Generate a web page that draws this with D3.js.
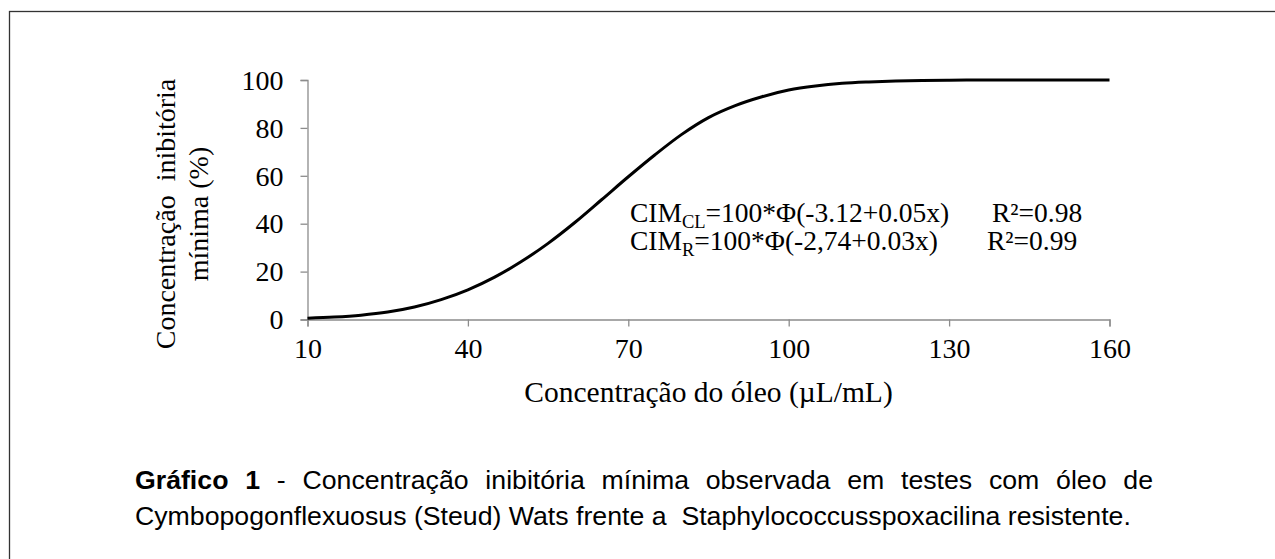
<!DOCTYPE html>
<html>
<head>
<meta charset="utf-8">
<script src="https://cdn.jsdelivr.net/npm/d3@7"></script>
<style>
  html, body { margin: 0; padding: 0; background: #fff; }
  svg { display: block; }
</style>
</head>
<body>
<svg id="chart" width="1275" height="559"></svg>
<script>
// ---- data ----
const concentrations = [10, 15, 20, 25, 30, 35, 40, 45, 50, 55, 60, 65, 70, 75, 80, 85, 90, 95, 100, 105, 110, 115, 120, 125, 130, 140, 150, 160];
const inhibition     = [0.5, 1.0, 1.8, 3.1, 5.2, 8.3, 12.4, 17.7, 24.2, 31.8, 40.5, 50.0, 59.6, 68.8, 77.3, 84.3, 89.3, 93.0, 95.8, 97.5, 98.6, 99.2, 99.6, 99.8, 99.9, 100, 100, 100];
const xTicks = [10, 40, 70, 100, 130, 160];
const yTicks = [0, 20, 40, 60, 80, 100];
const yTitleLines = ["Concentração  inibitória", "mínima (%)"];
const xTitle = "Concentração do óleo (µL/mL)";
const equations = [
  { sub: "CL", body: "=100*Φ(-3.12+0.05x)", r2: "R²=0.98" },
  { sub: "R",  body: "=100*Φ(-2,74+0.03x)", r2: "R²=0.99" }
];
const captionLine1Bold = "Gráfico 1";
const captionLine1Rest = " - Concentração inibitória mínima observada em testes com óleo de";
const captionLine2 = "Cymbopogonflexuosus (Steud) Wats frente a  Staphylococcusspoxacilina resistente.";

const svg = d3.select("#chart");
const serif = "'Liberation Serif', 'Times New Roman', serif";
const sans = "'Liberation Sans', Arial, sans-serif";
const axisColor = "#8c8c8c";

// outer frame (top and left edges visible; extends past the picture)
svg.append("rect")
  .attr("x", 9.5).attr("y", 11.5)
  .attr("width", 1300).attr("height", 600)
  .attr("fill", "none").attr("stroke", "#333").attr("stroke-width", 1.3);

const x = d3.scaleLinear().domain([10, 160]).range([307.5, 1109.5]);
const y = d3.scaleLinear().domain([0, 100]).range([319.5, 80]);

// axes
const xAxis = svg.append("g").attr("transform", `translate(0,${y(0)})`)
  .call(d3.axisBottom(x).tickValues(xTicks).tickSize(7).tickPadding(12).tickFormat(d3.format("d")));
const yAxis = svg.append("g").attr("transform", `translate(${x(10)},0)`)
  .call(d3.axisLeft(y).tickValues(yTicks).tickSize(7).tickPadding(17).tickFormat(d3.format("d")));

[xAxis, yAxis].forEach(g => {
  g.select(".domain").attr("stroke", axisColor).attr("stroke-width", 1.3);
  g.selectAll(".tick line").attr("stroke", axisColor).attr("stroke-width", 1.3);
  g.selectAll(".tick text").attr("fill", "#000")
    .style("font-family", serif).style("font-size", "28px");
});
xAxis.selectAll(".tick text").attr("dy", "0.71em");
yAxis.selectAll(".tick text").attr("dy", "0.33em");

// curve
const line = d3.line()
  .x((d, i) => x(concentrations[i]))
  .y(d => y(d))
  .curve(d3.curveMonotoneX);
svg.append("path")
  .datum(inhibition)
  .attr("d", line)
  .attr("fill", "none")
  .attr("stroke", "#000")
  .attr("stroke-width", 3)
  .attr("stroke-linejoin", "round");

// axis titles
svg.append("text")
  .attr("x", (x(10) + x(160)) / 2).attr("y", 402)
  .attr("text-anchor", "middle")
  .style("font-family", serif).style("font-size", "29.5px")
  .text(xTitle);

const yt = svg.append("text")
  .attr("transform", "translate(175,214) rotate(-90)")
  .attr("text-anchor", "middle")
  .style("font-family", serif).style("font-size", "28px")
  .style("white-space", "pre");
yTitleLines.forEach((t, i) => {
  yt.append("tspan").attr("x", 0).attr("y", i * 33).text(t);
});

// equations (one text block)
const eqText = svg.append("text")
  .style("font-family", serif).style("font-size", "27.5px");
const eqBase = [222, 250];
const r2x = [992, 987];
equations.forEach((e, i) => {
  eqText.append("tspan").attr("x", 630).attr("y", eqBase[i]).text("CIM");
  eqText.append("tspan").attr("y", eqBase[i] + 6).style("font-size", "18.5px").text(e.sub);
  eqText.append("tspan").attr("y", eqBase[i]).text(e.body);
  eqText.append("tspan").attr("x", r2x[i]).attr("y", eqBase[i]).text(e.r2);
});

// caption
const captionSize = "26.7px";
const c1 = svg.append("text").attr("x", 135).attr("y", 489)
  .style("font-family", sans).style("font-size", captionSize).style("white-space", "pre");
c1.append("tspan").style("font-weight", "bold").text(captionLine1Bold);
c1.append("tspan").text(captionLine1Rest);
// justify line 1 by widening the word gaps
const target1 = 1153 - 135;
const natural1 = c1.node().getComputedTextLength();
const gaps = (captionLine1Bold + captionLine1Rest).split(" ").length - 1;
if (natural1 < target1) c1.style("word-spacing", ((target1 - natural1) / gaps) + "px");

svg.append("text").attr("x", 135).attr("y", 525)
  .style("font-family", sans).style("font-size", captionSize).style("white-space", "pre")
  .text(captionLine2);
</script>
</body>
</html>
